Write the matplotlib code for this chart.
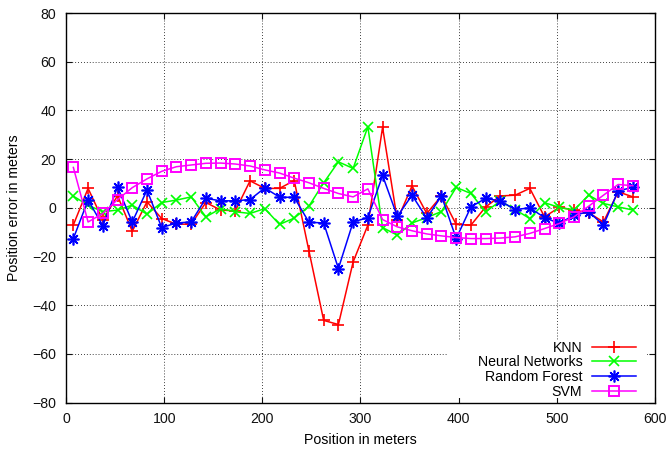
import matplotlib
matplotlib.use('Agg')
import matplotlib.pyplot as plt
from matplotlib.patches import Rectangle

plt.rcParams['font.family'] = ['Liberation Sans', 'DejaVu Sans']
plt.rcParams['font.size'] = 10.2

# position along the track (m)
position = [7.5, 22.5, 37.5, 52.5, 67.5, 82.5, 97.5, 112.5, 127.5, 142.5,
            157.5, 172.5, 187.5, 202.5, 217.5, 232.5, 247.5, 262.5, 277.5, 292.5,
            307.5, 322.5, 337.5, 352.5, 367.5, 382.5, 397.5, 412.5, 427.5, 442.5,
            457.5, 472.5, 487.5, 502.5, 517.5, 532.5, 547.5, 562.5, 577.5]

knn = [-7.0, 8.0, -5.0, 5.0, -9.6, 2.5, -4.4, -6.7, -6.7, 2.2,
       -0.9, -1.2, 11.1, 8.0, 8.0, 11.2, -17.7, -46.2, -47.9, -22.2,
       -7.1, 33.1, -5.0, 9.0, -2.3, 4.9, -6.8, -7.1, 0.4, 4.9,
       5.2, 8.0, -3.7, 0.2, -0.9, -2.0, -5.8, 6.6, 4.5]

neural = [4.8, 1.1, -1.6, -0.9, 1.1, -2.6, 2.2, 3.2, 4.5, -3.7,
          -0.3, -1.6, -2.3, -0.3, -6.8, -4.2, 0.7, 10.3, 18.9, 16.2,
          33.3, -8.1, -11.2, -6.2, -4.0, -1.5, 8.4, 5.9, -1.6, 2.8,
          -0.7, -4.4, 2.1, 0.2, -0.9, 5.2, 1.8, 0.4, -0.9]

forest = [-12.6, 3.2, -7.3, 8.5, -5.8, 7.3, -8.1, -6.2, -5.8, 3.9,
          2.9, 2.9, 3.4, 8.2, 4.4, 4.3, -5.9, -6.2, -24.9, -5.8,
          -4.0, 13.3, -3.5, 5.2, -4.2, 4.9, -12.6, 0.4, 3.9, 2.8,
          -0.7, 0.0, -4.0, -6.4, -3.0, -1.6, -7.1, 7.0, 8.4]

svm = [16.6, -5.8, -2.3, 3.4, 8.3, 11.9, 15.0, 16.9, 17.6, 18.3,
       18.4, 18.0, 17.2, 15.6, 14.3, 12.2, 10.3, 8.0, 5.9, 4.5,
       7.8, -4.8, -7.8, -9.4, -10.7, -11.5, -12.2, -12.6, -12.6, -12.4,
       -11.9, -10.5, -8.5, -6.4, -3.7, 0.7, 5.2, 9.6, 9.1]

fig = plt.figure(figsize=(6.68, 4.49), dpi=100)
ax = fig.add_axes([0.0988, 0.1031, 0.8817, 0.8679])

ax.plot(position, knn, color='#ff0000', lw=1.1, marker='+', ms=8.5, mew=1.2,
        label='KNN')
ax.plot(position, neural, color='#00ff00', lw=1.1, marker='x', ms=7, mew=1.2,
        label='Neural Networks')
ax.plot(position, forest, color='#0000ff', lw=1.1, marker=(8, 2, 0), ms=8.5,
        mew=1.2, label='Random Forest')
ax.plot(position, svm, color='#ff00ff', lw=1.1, marker='s', ms=7.8, mew=1.4,
        mfc='none', label='SVM')

ax.set_xlim(0, 600)
ax.set_ylim(-80, 80)
ax.set_xticks(range(0, 601, 100))
ax.set_yticks(range(-80, 81, 20))
ax.set_axisbelow(True)
ax.grid(True, color='black', linestyle=(0, (1, 2.5)), linewidth=0.6)
ax.tick_params(direction='in', length=4, width=0.8, top=True, right=True,
               pad=7, labelsize=10.2, colors='#111111')
for s in ax.spines.values():
    s.set_linewidth(1.0)

# key area hides the grid like gnuplot does
ax.add_patch(Rectangle((0.6486, 0.012), 0.338, 0.149, transform=ax.transAxes,
                       facecolor='white', edgecolor='none', zorder=1))

ax.set_xlabel('Position in meters', fontsize=10.2, labelpad=5)
ax.set_ylabel('Position error in meters', fontsize=10.2, labelpad=8)

ax.legend(loc='lower right', bbox_to_anchor=(0.968, 0.01), markerfirst=False,
          frameon=False, handlelength=3.1, handletextpad=0.7,
          labelspacing=0.05, borderpad=0, borderaxespad=0, fontsize=10.2)

fig.savefig('out.png', dpi=100)
